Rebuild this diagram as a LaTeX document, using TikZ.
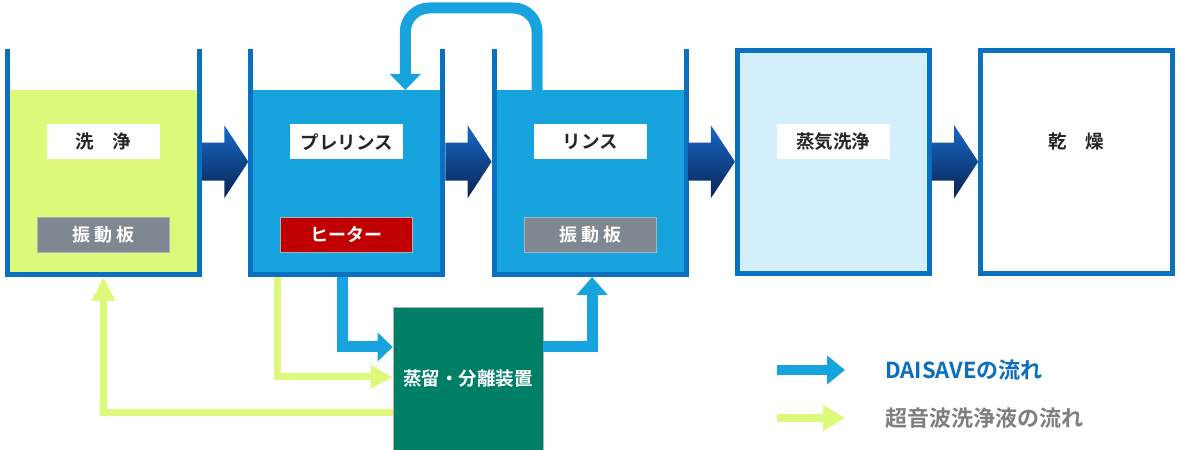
\documentclass[tikz,border=0pt]{standalone}
\usepackage{fontspec}
\setmainfont{Noto Sans CJK JP}[BoldFont={Noto Sans CJK JP Bold}]
\usetikzlibrary{positioning,arrows.meta,calc}

\definecolor{wallblue}{RGB}{10,112,192}
\definecolor{flowblue}{RGB}{23,163,221}
\definecolor{washgreen}{RGB}{221,249,122}
\definecolor{steamblue}{RGB}{211,239,251}
\definecolor{plategray}{RGB}{127,136,144}
\definecolor{platerim}{RGB}{170,178,186}
\definecolor{heaterred}{RGB}{192,0,0}
\definecolor{distgreen}{RGB}{0,127,103}
\definecolor{textdark}{RGB}{38,38,38}
\definecolor{legendblue}{RGB}{11,111,191}
\definecolor{legendgray}{RGB}{127,127,127}
\definecolor{stagetop}{RGB}{24,104,200}
\definecolor{stagebottom}{RGB}{9,36,82}

\tikzset{
  tank/.style={minimum width=192pt, minimum height=225.5pt, inner sep=0pt, outer sep=0pt},
  closedtank/.style={draw=wallblue, line width=5pt, minimum height=223pt},
  wall/.style={draw=wallblue, line width=5pt},
  namebox/.style={fill=white, text=textdark, minimum width=113pt, minimum height=35pt,
    inner sep=0pt, font=\fontsize{18.5}{18.5}\selectfont\bfseries},
  platebox/.style={fill=plategray, draw=platerim, line width=0.8pt, text=white,
    minimum width=132pt, minimum height=35pt, inner sep=0pt,
    font=\fontsize{18}{18}\selectfont\bfseries},
  distbox/.style={fill=distgreen, draw=platerim, line width=0.6pt, text=white,
    minimum width=150pt, minimum height=143pt, inner sep=0pt,
    font=\fontsize{18.5}{18.5}\selectfont\bfseries},
  legendtext/.style={anchor=west, inner sep=0pt, font=\fontsize{22}{22}\selectfont\bfseries},
  stageshade/.style={top color=stagetop, bottom color=stagebottom},
  flowline/.style={draw=flowblue, line width=11pt},
  washline/.style={draw=washgreen, line width=7pt},
}

% fat shaded arrow from one tank to the next
\newcommand{\stagearrow}[2]{%
  \path[stageshade] let \p1=(#1.east), \p2=(#2.west) in
    (\x1+2.5pt,\y1+19pt) -- (\x2-26.5pt,\y1+19pt) -- (\x2-26.5pt,\y1+36.5pt)
    -- (\x2-2.5pt,\y1) -- (\x2-26.5pt,\y1-36.5pt) -- (\x2-26.5pt,\y1-19pt)
    -- (\x1+2.5pt,\y1-19pt) -- cycle;}

\begin{document}
\begin{tikzpicture}[x=1pt, y=1pt, node distance=51.3pt]
  \useasboundingbox (0,0) rectangle (1179,450);

  % tanks
  \node[tank] (senjo) at (103.5,288.25) {};
  \node[tank] (prerinse) [right=of senjo] {};
  \node[tank] (rinse) [right=of prerinse] {};
  \node[tank, closedtank, fill=steamblue] (steam) [right=of rinse] {};
  \node[tank, closedtank, fill=white] (dry) [right=of steam] {};

  \node[distbox] (distill) at (468,71.5) {蒸留・分離装置};

  % flows under the tanks
  \draw[washline, -{Triangle[width=22pt,length=22pt]}]
    ([xshift=-69.5pt,yshift=-2.5pt]prerinse.south) |- ([yshift=1.5pt]distill.west);
  \draw[flowline, -{Triangle[width=28pt,length=15pt]}]
    ([xshift=-4pt,yshift=-2.5pt]prerinse.south) |- ([yshift=31.5pt]distill.west);
  \draw[flowline, -{Triangle[width=30pt,length=18pt]}]
    ([yshift=31.5pt]distill.east) -| ([xshift=2pt,yshift=-2.5pt]rinse.south);
  \draw[washline, -{Triangle[width=22pt,length=24pt]}]
    ([yshift=-34.5pt]distill.west) -| ([yshift=-2.5pt]senjo.south);

  % liquid and walls of the open tanks
  \foreach \t/\c in {senjo/washgreen, prerinse/flowblue, rinse/flowblue} {
    \fill[\c] (\t.south west) rectangle ([yshift=-41pt]\t.north east);
    \draw[wall] (\t.north west) |- (\t.south east) -- (\t.north east);
  }

  % return loop rinse -> prerinse
  \draw[flowline, -{Triangle[width=30pt,length=16pt]}, rounded corners=24pt]
    ([xshift=-53pt,yshift=-41pt]rinse.north) -- ++(0,82)
    -| ([xshift=58.5pt,yshift=-41pt]prerinse.north);

  \stagearrow{senjo}{prerinse}
  \stagearrow{prerinse}{rinse}
  \stagearrow{rinse}{steam}
  \stagearrow{steam}{dry}

  % labels
  \node[namebox] (senjo-name) at ([yshift=20pt]senjo.center) {洗　浄};
  \node[platebox] (senjo-plate) at ([yshift=-72.75pt]senjo.center) {振\hspace{4pt}動\hspace{4pt}板};
  \node[namebox] (prerinse-name) at ([yshift=20pt]prerinse.center) {プレリンス};
  \node[platebox, fill=heaterred] (heater) at ([yshift=-72.75pt]prerinse.center) {ヒーター};
  \node[namebox] (rinse-name) at ([yshift=20pt]rinse.center) {リンス};
  \node[platebox] (rinse-plate) at ([yshift=-72.75pt]rinse.center) {振\hspace{4pt}動\hspace{4pt}板};
  \node[namebox] (steam-name) at ([yshift=20pt]steam.center) {蒸気洗浄};
  \node[namebox, fill=none] (dry-name) at ([yshift=20pt]dry.center) {乾　燥};

  % legend
  \node[legendtext, text=legendblue] (leg-daisave) at (885,80) {DAISAVEの流れ};
  \node[legendtext, text=legendgray] (leg-wash) at (885,32) {超音波洗浄液の流れ};
  \coordinate (leg-daisave-tail) at (777,80);
  \coordinate (leg-wash-tail) at (777,32);
  \draw[draw=flowblue, line width=10pt, -{Triangle[width=28pt,length=18pt]}]
    (leg-daisave-tail) -- ([xshift=-40pt]leg-daisave.west);
  \draw[draw=washgreen, line width=8pt, -{Triangle[width=25pt,length=22pt]}]
    (leg-wash-tail) -- ([xshift=-40pt]leg-wash.west);
\end{tikzpicture}
\end{document}
